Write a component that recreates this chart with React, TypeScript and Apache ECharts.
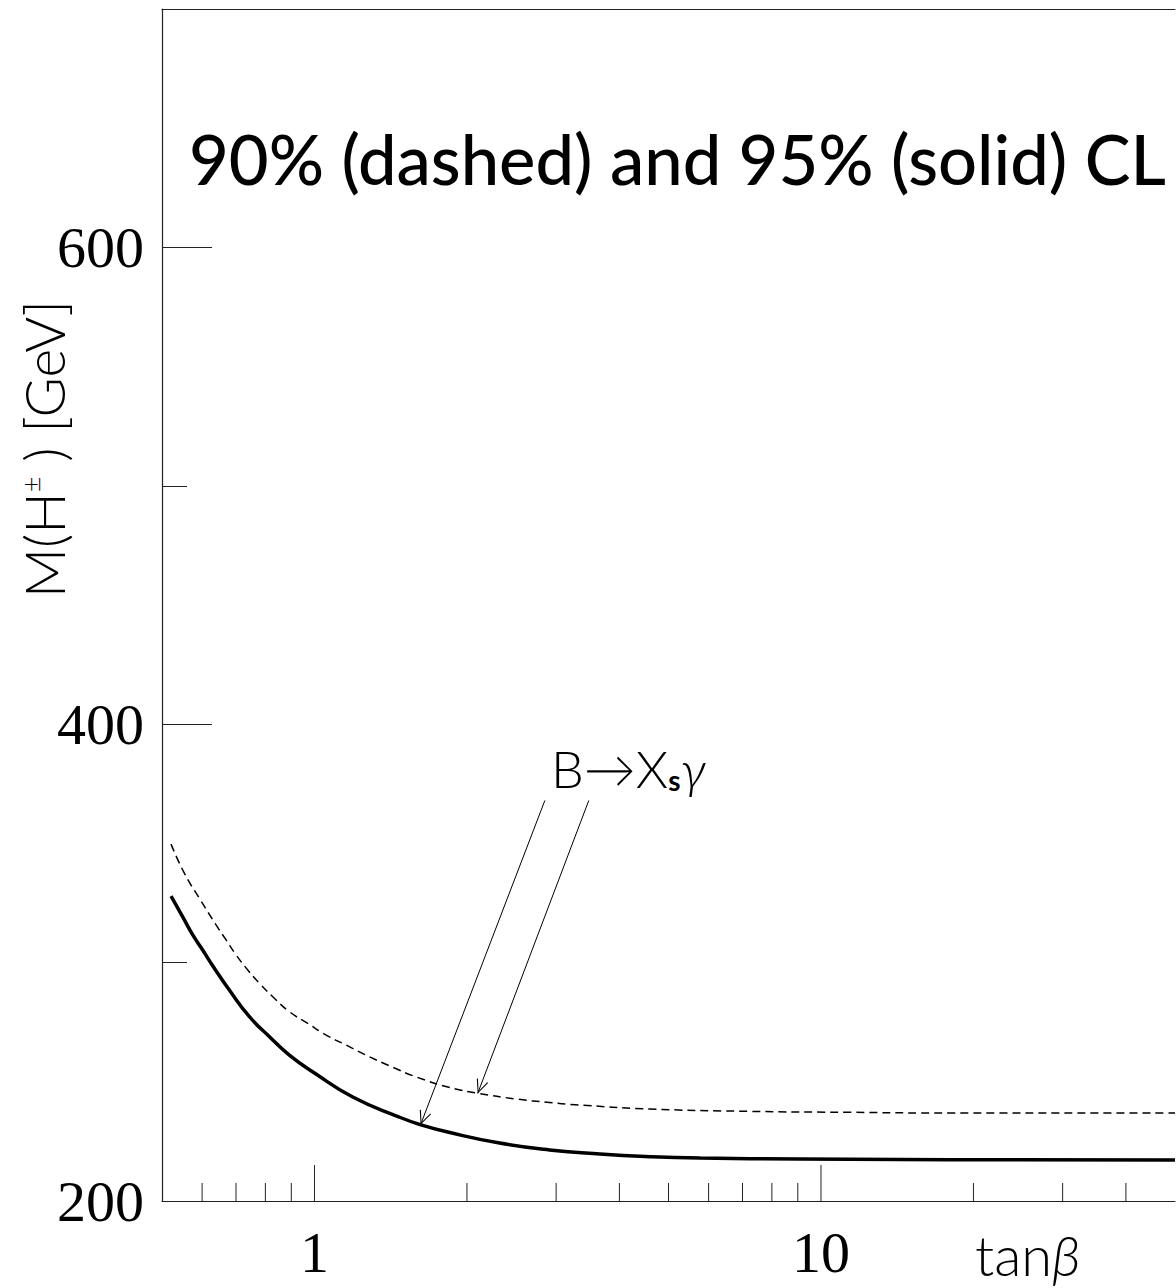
import React, { useEffect, useRef } from 'react';
import * as echarts from 'echarts';

// 95% CL (solid) exclusion curve
const tanBeta95 = [0.521, 0.549, 0.575, 0.6015, 0.63, 0.679, 0.744, 0.815, 0.892, 1.0, 1.19, 1.47, 1.62, 1.85, 2.32, 2.91, 3.66, 4.59, 5.77, 9.09, 14.3, 22.6, 50];
const mass95 = [327.9, 319.3, 311.6, 305.3, 298.6, 288.5, 277.3, 268.9, 261.2, 253.7, 243.6, 235.2, 232.0, 228.7, 224.3, 221.4, 219.7, 218.6, 218.0, 217.6, 217.4, 217.3, 217.2];

// 90% CL (dashed) exclusion curve
const tanBeta90 = [0.521, 0.5535, 0.5925, 0.6393, 0.6691, 0.7004, 0.7384, 0.7786, 0.8273, 0.8924, 0.97, 1.0547, 1.155, 1.284, 1.428, 1.59, 1.85, 2.1, 2.5, 2.91, 3.27, 4.59, 7.24, 11.4, 18, 50];
const mass90 = [349.7, 337.5, 327.0, 315.8, 309.5, 303.2, 296.9, 291.3, 285.7, 279.4, 274.5, 269.6, 265.4, 260.5, 256.1, 252.0, 247.6, 245.2, 242.8, 241.3, 240.4, 238.6, 237.6, 237.2, 236.9, 236.9];

// axes
const X_MIN = 0.5;
const X_MAX = 50;
const Y_MIN = 200;
const Y_MAX = 700;
const xLabelValues = [1, 10];
const xMajorTicks = [1, 10];
const xMinorTicks = [0.6, 0.7, 0.8, 0.9, 2, 3, 4, 5, 6, 7, 8, 9, 20, 30, 40];
const yMajorTicks = [200, 400, 600];
const yMinorTicks = [300, 500, 700];

// annotation arrows (data coordinates): B -> Xs gamma
const arrowStart = [[2.85, 368], [3.48, 368]];
const arrowEnd = [[1.62, 232.0], [2.1, 245.1]];

const TITLE = '90% (dashed) and 95% (solid) CL';
const SANS = 'Lato, "Noto Sans", sans-serif';
const SERIF = '"Liberation Serif", "DejaVu Serif", serif';
const INK = '#000';
const AXIS = '#222';

function tickSeries(values: number[], len: number) {
  return {
    type: 'custom',
    xAxisIndex: 0,
    yAxisIndex: 0,
    silent: true,
    z: 5,
    data: values.map((v) => [v, Y_MIN]),
    encode: { x: 0, y: 1 },
    renderItem: (_params: any, api: any) => {
      const p = api.coord([api.value(0), api.value(1)]);
      return {
        type: 'line',
        shape: { x1: p[0], y1: p[1], x2: p[0], y2: p[1] - len },
        style: { stroke: AXIS, lineWidth: 1 },
      };
    },
  };
}

export default function App() {
  const ref = useRef<HTMLDivElement>(null);

  useEffect(() => {
    if (!ref.current) return;
    const chart = echarts.init(ref.current, null, { renderer: 'svg' });

    const option: any = {
      animation: false,
      backgroundColor: '#fff',
      grid: { left: 162, right: 1, top: 9, bottom: 87, show: false, outerBoundsMode: 'none' },
      xAxis: [
        {
          type: 'log',
          logBase: 10,
          min: X_MIN,
          max: X_MAX,
          position: 'bottom',
          axisLine: { show: true, onZero: false, lineStyle: { color: AXIS, width: 1.2 } },
          axisTick: { show: false },
          splitLine: { show: false },
          minorTick: { show: false },
          axisLabel: {
            show: true,
            margin: 22,
            color: INK,
            fontFamily: SERIF,
            fontSize: 58,
            showMinLabel: true,
            showMaxLabel: true,
            formatter: (v: number) =>
              xLabelValues.some((t) => Math.abs(t - v) < 1e-6) ? String(Math.round(v)) : '',
          },
        },
        {
          type: 'value',
          position: 'top',
          min: 0,
          max: 1,
          axisLine: { show: true, onZero: false, lineStyle: { color: AXIS, width: 1.2 } },
          axisTick: { show: false },
          axisLabel: { show: false },
          splitLine: { show: false },
        },
      ],
      yAxis: [
        {
          type: 'value',
          min: Y_MIN,
          max: Y_MAX,
          interval: 100,
          position: 'left',
          axisLine: { show: true, onZero: false, lineStyle: { color: AXIS, width: 1.2 } },
          axisTick: { show: true, inside: true, length: 50, customValues: yMajorTicks, lineStyle: { color: AXIS, width: 1 } },
          splitLine: { show: false },
          axisLabel: {
            show: true,
            margin: 18,
            color: INK,
            fontFamily: SERIF,
            fontSize: 58,
            customValues: yMajorTicks,
            formatter: (v: number) => (yMajorTicks.includes(v) ? String(v) : ''),
          },
        },
        {
          type: 'value',
          min: Y_MIN,
          max: Y_MAX,
          interval: 100,
          position: 'left',
          offset: 0,
          axisLine: { show: false },
          axisTick: { show: true, inside: true, length: 25, customValues: yMinorTicks, lineStyle: { color: AXIS, width: 1 } },
          axisLabel: { show: false },
          splitLine: { show: false },
        },
      ],
      series: [
        {
          type: 'line',
          name: '90% CL',
          xAxisIndex: 0,
          yAxisIndex: 0,
          data: tanBeta90.map((x, i) => [x, mass90[i]]),
          symbol: 'none',
          showSymbol: false,
          smooth: 0.5,
          lineStyle: { color: INK, width: 1.5, type: [8, 5] },
          z: 3,
        },
        {
          type: 'line',
          name: '95% CL',
          xAxisIndex: 0,
          yAxisIndex: 0,
          data: tanBeta95.map((x, i) => [x, mass95[i]]),
          symbol: 'none',
          showSymbol: false,
          smooth: 0.5,
          lineStyle: { color: INK, width: 3.5 },
          z: 4,
          markLine: {
            silent: true,
            animation: false,
            symbol: ['none', 'path://M0,0 L-6,14 L-5,14.6 L0,2.4 L5,14.6 L6,14 Z'],
            symbolSize: [12, 14],
            symbolOffset: [[0, 0], [0, 7]],
            label: { show: false },
            emphasis: { disabled: true },
            lineStyle: { color: INK, width: 1, type: 'solid' },
            data: arrowStart.map((s, i) => [{ coord: s }, { coord: arrowEnd[i] }]),
          },
        },
        tickSeries(xMinorTicks, 18),
        tickSeries(xMajorTicks, 36),
      ],
      graphic: [
        {
          type: 'text',
          x: 189,
          y: 158,
          silent: true,
          style: {
            text: TITLE,
            fontFamily: SANS,
            fontWeight: 500,
            fontSize: 68.7,
            fill: INK,
            textAlign: 'left',
            textVerticalAlign: 'middle',
          },
        },
        {
          type: 'text',
          x: 44,
          y: 449,
          rotation: Math.PI / 2,
          silent: true,
          style: {
            text: 'M(H{sup|±} ) [GeV]',
            fontFamily: SANS,
            fontWeight: 300,
            fontSize: 55,
            fill: INK,
            textAlign: 'center',
            textVerticalAlign: 'middle',
            rich: {
              sup: { fontFamily: SANS, fontWeight: 300, fontSize: 27, verticalAlign: 'top', fill: INK },
            },
          },
        },
        {
          type: 'text',
          x: 975,
          y: 1254,
          silent: true,
          style: {
            text: 'tan{b|β}',
            fontFamily: SANS,
            fontWeight: 300,
            fontSize: 56,
            fill: INK,
            textAlign: 'left',
            textVerticalAlign: 'middle',
            rich: {
              b: { fontFamily: SANS, fontWeight: 300, fontStyle: 'italic', fontSize: 56, fill: INK },
            },
          },
        },
        {
          type: 'text',
          x: 551,
          y: 768,
          silent: true,
          style: {
            text: 'B→X{s|s}{g|γ}',
            fontFamily: SANS,
            fontWeight: 300,
            fontSize: 52,
            fill: INK,
            textAlign: 'left',
            textVerticalAlign: 'middle',
            rich: {
              s: { fontFamily: SANS, fontWeight: 'bold', fontSize: 28, lineHeight: 20, verticalAlign: 'bottom', fill: INK },
              g: { fontFamily: SANS, fontWeight: 300, fontStyle: 'italic', fontSize: 52, fill: INK },
            },
          },
        },
      ],
    };

    chart.setOption(option);
    return () => {
      chart.dispose();
    };
  }, []);

  return (
    <div
      ref={ref}
      style={{ position: 'absolute', left: 0, top: 0, width: 1176, height: 1288, background: '#fff' }}
    />
  );
}
